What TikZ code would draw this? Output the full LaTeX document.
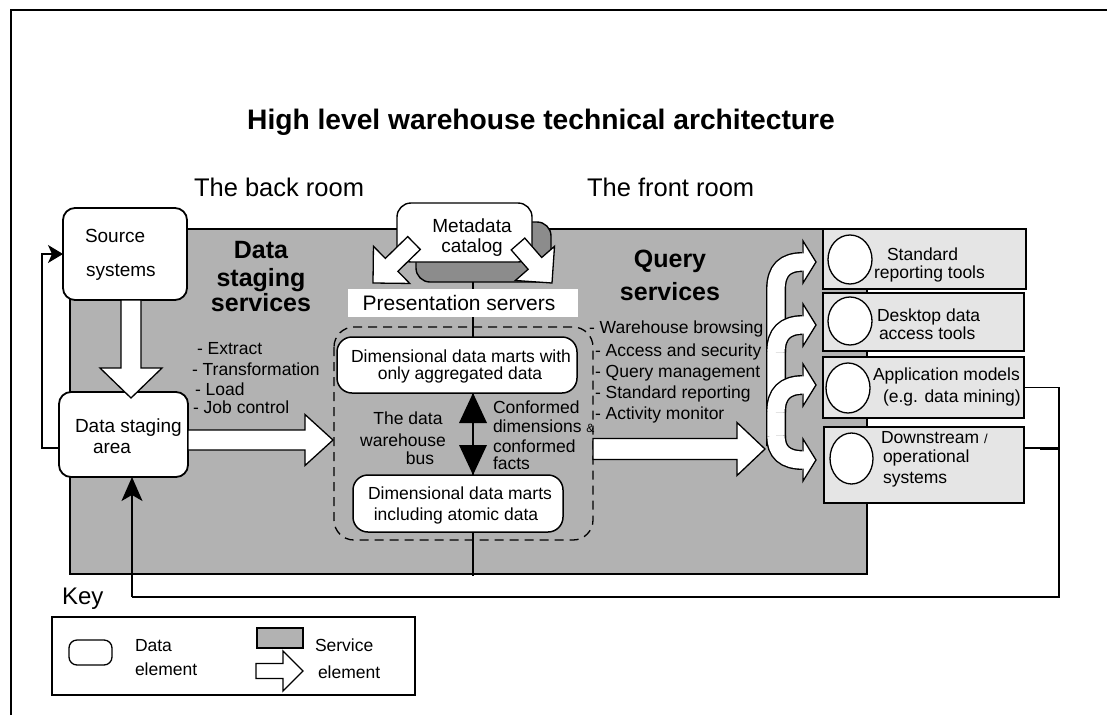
\documentclass[tikz,border=0pt]{standalone}
\usepackage{fontspec}
\setmainfont{Liberation Sans}
\usetikzlibrary{calc,arrows.meta,shapes.geometric}
\definecolor{svc}{gray}{0.70}
\definecolor{svcdark}{gray}{0.55}
\definecolor{tool}{gray}{0.90}
% block arrow: tail, tip, shaft half width, head half width, head length
\newcommand\blockarrow[5]{%
  \path ($(#2)!#5!(#1)$) coordinate (bahead);
  \filldraw[fill=white,draw=black,line width=1.3pt,line join=miter]
    ($(#1)!#3!90:(#2)$) -- ($(bahead)!#3!90:(#2)$) -- ($(bahead)!#4!90:(#2)$) -- (#2)
    -- ($(bahead)!#4!-90:(#2)$) -- ($(bahead)!#3!-90:(#2)$) -- ($(#1)!#3!-90:(#2)$) -- cycle;
}
\newcommand\forkbranch[1]{%
  \draw[line width=20pt,black] #1;
  \draw[line width=17.2pt,white] #1;
}
\newcommand\forkhead[1]{%
  \fill[white] (802,#1-8.6) -- (803,#1-21) -- (816,#1) -- (803,#1+21) -- (802,#1+8.6) -- cycle;
  \draw[line width=1.3pt,line join=miter] (803,#1-8.6) -- (803,#1-21) -- (816,#1) -- (803,#1+21) -- (803,#1+8.6);
}
\begin{document}
\begin{tikzpicture}[x=1pt,y=-1pt,
  every node/.style={inner sep=0pt,outer sep=0pt},
  fS/.style={font=\fontsize{17.5pt}{21pt}\selectfont},
  fM/.style={font=\fontsize{19pt}{23pt}\selectfont},
  fP/.style={font=\fontsize{21pt}{25pt}\selectfont},
  fL/.style={font=\fontsize{25.5pt}{30pt}\selectfont},
  fB/.style={font=\fontsize{25pt}{30pt}\selectfont\bfseries},
  fT/.style={font=\fontsize{28.2pt}{33pt}\selectfont\bfseries},
  delem/.style={draw,fill=white,rounded corners=12pt,line width=1.8pt},
  dmart/.style={draw,fill=white,rounded corners=15pt,line width=1.5pt},
  toolbox/.style={draw,fill=tool,line width=1.5pt},
  toolcirc/.style={draw,fill=white,ellipse,line width=1.3pt},
  fb/.style={line width=1.5pt},
]
\useasboundingbox (0,0) rectangle (1107,715);
% outer frame
\draw[line width=1.6pt] (11,715) -- (11,10) -- (1107,10);

% title and room labels
\node[fT,anchor=base] (title) at (541,129) {High level warehouse technical architecture};
\node[fL,anchor=base west] (back) at (194,196) {The back room};
\node[fL,anchor=base west] (front) at (587,196) {The front room};

% service area
\node[draw,fill=svc,line width=1.4pt,minimum width=797,minimum height=345,anchor=north west] (svcarea) at (70,229) {};

% vertical bus line
\coordinate (busTop) at (473,282);
\coordinate (busBot) at (473,576);
\draw[line width=1.3pt] (busTop) -- (busBot);

% feedback loops
\coordinate (fbA) at (1059,387.5);
\coordinate (fbB) at (1059,448);
\coordinate (fbC) at (1059,597);
\coordinate (fbD) at (132,597);
\coordinate (fbE) at (42,448);
\coordinate (fbF) at (42,254);

% right-hand tool boxes
\node[toolbox,minimum width=203,minimum height=60,anchor=north west] (rb1) at (823,229) {};
\node[toolbox,minimum width=201,minimum height=58,anchor=north west] (rb2) at (823,293) {};
\node[toolbox,minimum width=201,minimum height=61,anchor=north west] (rb3) at (823,357) {};
\node[toolbox,minimum width=200,minimum height=76,anchor=north west] (rb4) at (824,427) {};
\draw[fb] (rb3.east) -- (fbA) -- (fbC) -- (fbD);
\draw[fb] (rb4.east |- fbB) -- (fbB);
\draw[line width=3pt] (1040,448) -- (fbB);

\node[toolcirc,minimum width=44,minimum height=49] (c1) at (850,259.5) {};
\node[toolcirc,minimum width=44,minimum height=48] (c2) at (850,321) {};
\node[toolcirc,minimum width=44,minimum height=50] (c3) at (848,388) {};
\node[toolcirc,minimum width=43,minimum height=51] (c4) at (851.5,458.5) {};

\node[fS,anchor=base west] (t1a) at (887,260) {Standard};
\node[fS,anchor=base west] (t1b) at (874,278) {reporting tools};
\node[fS,anchor=base west] (t2a) at (877,321) {Desktop data};
\node[fS,anchor=base west] (t2b) at (879,339) {access tools};
\node[fS,anchor=base west] (t3a) at (873,380) {Application models};
\node[fS,anchor=base west] (t3b) at (883,402) {(e.g. data mining)};
\node[fS,anchor=base west] (t4a) at (881,443) {Downstream {\fontsize{13pt}{15pt}\selectfont/}};
\node[fS,anchor=base west] (t4b) at (883,462) {operational};
\node[fS,anchor=base west] (t4c) at (883,483) {systems};

% metadata catalog
\node[draw,fill=svcdark,rounded corners=14pt,line width=1.4pt,minimum width=135,minimum height=60] (metashadow) at (483.5,252) {};
\node[draw,fill=white,rounded corners=14pt,line width=1.4pt,minimum width=135,minimum height=59] (meta) at (464.5,232.5) {};
\node[fM,anchor=base] (metaA) at (472,232) {Metadata};
\node[fM,anchor=base] (metaB) at (472,252) {catalog};
\coordinate (mlTail) at (414,243);
\coordinate (mlTip) at (373,283);
\coordinate (mrTail) at (518,244);
\coordinate (mrTip) at (552,283);
\blockarrow{mlTail}{mlTip}{9pt}{26pt}{26pt}
\blockarrow{mrTail}{mrTip}{9pt}{26pt}{26pt}

% presentation servers
\node[fill=white,minimum width=230,minimum height=28] (pres) at (463,303) {};
\node[fP,anchor=base] (presT) at (459,310) {Presentation servers};

% dashed presentation area
\draw[line width=1.3pt,dash pattern=on 9pt off 6pt,rounded corners=20pt] (334,327) rectangle (593,540);

% dimensional data marts
\node[dmart,minimum width=240,minimum height=56] (dimagg) at (457,365) {};
\node[fS,anchor=base] (dimaggA) at (461,362) {Dimensional data marts with};
\node[fS,anchor=base] (dimaggB) at (460,379) {only aggregated data};
\node[dmart,minimum width=210,minimum height=57] (dimatom) at (458,503.5) {};
\node[fS,anchor=base] (dimatomA) at (460,499) {Dimensional data marts};
\node[fS,anchor=base] (dimatomB) at (456,520) {including atomic data};

% black double arrow (bus)
\fill (dimagg.south -| busTop) -- ++(-14,30) -- ++(28,0) -- cycle;
\fill (dimatom.north -| busTop) -- ++(-14,-30) -- ++(28,0) -- cycle;

\node[fS,anchor=base] (busA) at (408,424) {The data};
\node[fS,anchor=base] (busB) at (403,446) {warehouse};
\node[fS,anchor=base] (busC) at (420,464) {bus};
\node[fS,anchor=base west] (confA) at (493,413) {Conformed};
\node[fS,anchor=base west] (confB) at (493,432) {dimensions {\fontsize{12pt}{14pt}\selectfont\&}};
\node[fS,anchor=base west] (confC) at (493,452) {conformed};
\node[fS,anchor=base west] (confD) at (493,469) {facts};

% back room data elements
\node[delem,minimum width=124,minimum height=92] (src) at (125,254) {};
\node[fM,anchor=base west] (srcA) at (85,242) {Source};
\node[fM,anchor=base west] (srcB) at (86,276) {systems};
\node[delem,minimum width=129,minimum height=85] (dsa) at (123.5,434.5) {};
\node[fM,anchor=base west] (dsaA) at (75,432) {Data staging};
\node[fM,anchor=base west] (dsaB) at (93,453) {area};

\draw[fb,-{Stealth[length=15pt,width=18pt,inset=4pt]}] (dsa.west |- fbE) -- (fbE) -- (fbF) -- (src.west);
\draw[fb,-{Stealth[length=24pt,width=21pt,inset=6pt]}] (fbD) -- (dsa.south -| fbD);

\coordinate (sdTail) at (131,300);
\coordinate (sdTip) at (131,398);
\blockarrow{sdTail}{sdTip}{10pt}{31pt}{30pt}
\coordinate (spTail) at (188,440);
\coordinate (spTip) at (333,440);
\blockarrow{spTail}{spTip}{10pt}{25.5pt}{28pt}

\node[fB,anchor=base] (dssA) at (261,258) {Data};
\node[fB,anchor=base] (dssB) at (261,286) {staging};
\node[fB,anchor=base] (dssC) at (261,311) {services};
\node[fS,anchor=base west] (etl1) at (197,354) {- Extract};
\node[fS,anchor=base west] (etl2) at (192,375) {- Transformation};
\node[fS,anchor=base west] (etl3) at (195,395) {- Load};
\node[fS,anchor=base west] (etl4) at (193,413) {- Job control};

% query services
\node[fB,anchor=base] (qsA) at (670,267) {Query};
\node[fB,anchor=base] (qsB) at (670,300) {services};
\node[fS,anchor=base west] (q1) at (589,333) {- Warehouse browsing};
\node[fS,anchor=base west] (q2) at (595,356) {- Access and security};
\node[fS,anchor=base west] (q3) at (595,377) {- Query management};
\node[fS,anchor=base west] (q4) at (595,398) {- Standard reporting};
\node[fS,anchor=base west] (q5) at (595,419) {- Activity monitor};

\coordinate (qTail) at (593,449);
\coordinate (qTip) at (765,449);
\blockarrow{qTail}{qTip}{10.5pt}{26.5pt}{28pt}

% fork to tools
\forkbranch{(776,446) -- (776,290) .. controls (776,270) and (785,262) .. (803,262)}
\forkhead{262}
\forkbranch{(776,352) .. controls (776,334) and (785,325) .. (803,325)}
\forkhead{325}
\forkbranch{(776,412) .. controls (776,394) and (785,385) .. (803,385)}
\forkhead{385}
\forkbranch{(776,436) .. controls (776,452) and (785,460) .. (803,460)}
\forkhead{460}

% key
\node[font=\fontsize{24pt}{28pt}\selectfont,anchor=base west] (keyT) at (62,604) {Key};
\node[draw,line width=1.4pt,minimum width=363,minimum height=78,anchor=north west] (keybox) at (52,617) {};
\node[draw,fill=white,rounded corners=8pt,line width=1.3pt,minimum width=43,minimum height=25] (kdata) at (90.5,652.5) {};
\node[fS,anchor=base west] (kdA) at (135,651) {Data};
\node[fS,anchor=base west] (kdB) at (135,675) {element};
\node[draw,fill=svc,line width=1.3pt,minimum width=46,minimum height=20] (ksvc) at (280,638) {};
\coordinate (kaTail) at (256,671);
\coordinate (kaTip) at (303,671);
\blockarrow{kaTail}{kaTip}{7.5pt}{20pt}{20pt}
\node[fS,anchor=base west] (ksA) at (315,651) {Service};
\node[fS,anchor=base west] (ksB) at (318,678) {element};
\end{tikzpicture}
\end{document}
